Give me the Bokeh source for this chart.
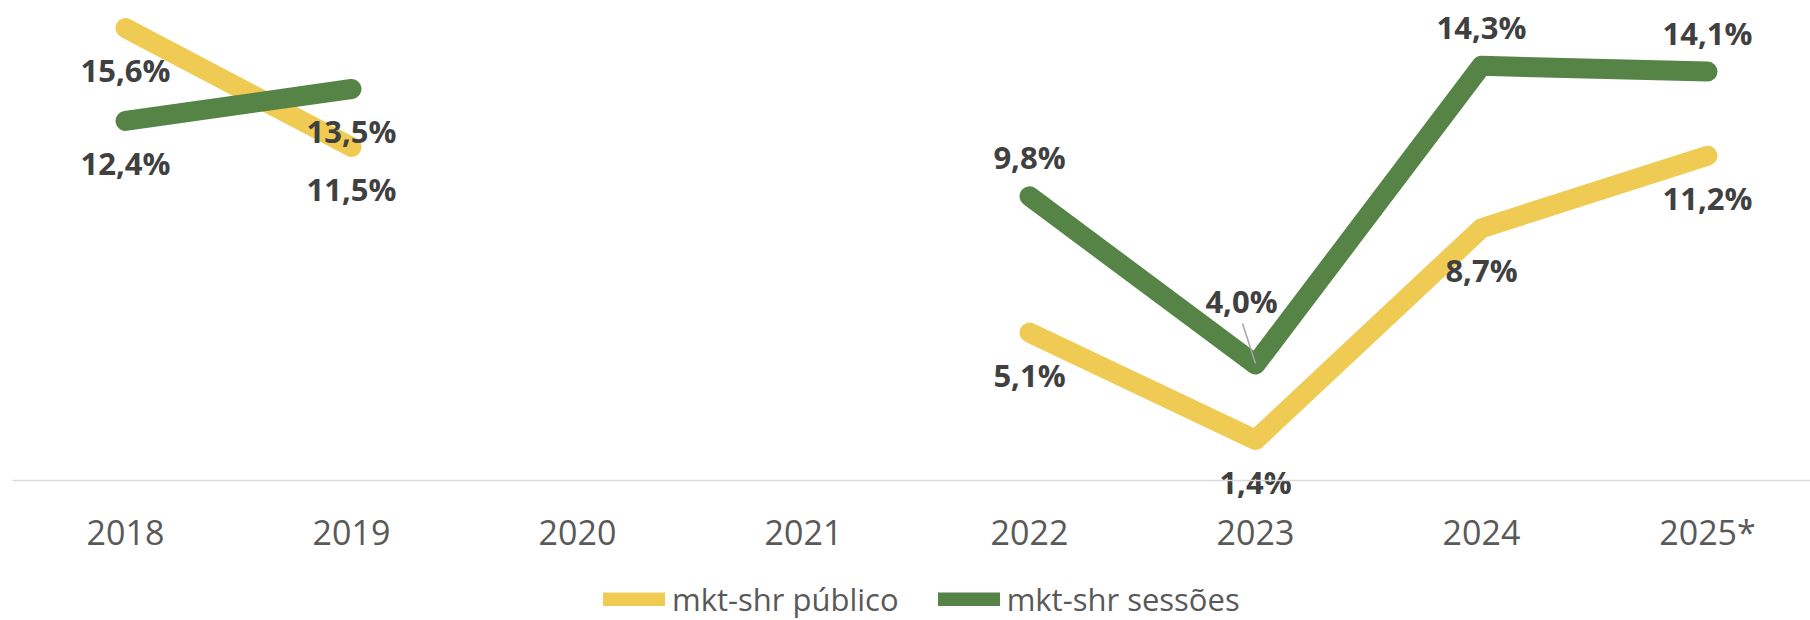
from bokeh.plotting import figure
from bokeh.models import (Range1d, ColumnDataSource, Legend, LegendItem,
                          FixedTicker)
from bokeh.core.properties import value
from bokeh.embed import file_html
from bokeh.resources import INLINE

# ---------------- data ----------------
years = ["2018", "2019", "2020", "2021", "2022", "2023", "2024", "2025*"]
mkt_shr_publico = [15.6, 11.5, None, None, 5.1, 1.4, 8.7, 11.2]
mkt_shr_sessoes = [12.4, 13.5, None, None, 9.8, 4.0, 14.3, 14.1]
series_names = ["mkt-shr público", "mkt-shr sessões"]
# label placement per point (style)
publico_label_pos = ["below"] * 8
sessoes_label_pos = ["below", "below", "", "", "above", "callout", "above", "above"]

# ---------------- style ----------------
YELLOW = "#F0CB53"
GREEN = "#558446"
LABEL_COLOR = "#404040"
AXIS_TEXT = "#595959"
FONT = "Open Sans"

W, H = 1810, 620
FRAME_L, FRAME_T = 12, 10
FRAME_W = W - FRAME_L
XPX = 226.0          # px per category
YPX = 29.0           # px per percentage point
ZERO_Y = 480         # px of y=0
FRAME_B = H          # frame runs to the bottom edge

OFFSETS = {"below": (0, 42), "above": (0, -39), "callout": (-14, -64)}

x_range = Range1d(-0.5, -0.5 + FRAME_W / XPX)
y_range = Range1d(-(FRAME_B - ZERO_Y) / YPX, (ZERO_Y - FRAME_T) / YPX)

p = figure(width=W, height=H, x_range=x_range, y_range=y_range,
           output_backend="svg", toolbar_location=None,
           min_border_left=FRAME_L, min_border_right=0,
           min_border_top=FRAME_T, min_border_bottom=0)
p.outline_line_color = None
p.grid.visible = False
p.yaxis.visible = False
p.background_fill_color = "white"
p.border_fill_color = "white"

ax = p.xaxis[0]
ax.fixed_location = 0
ax.ticker = FixedTicker(ticks=list(range(len(years))))
ax.major_label_overrides = {i: y for i, y in enumerate(years)}
ax.axis_line_color = "#d9d9d9"
ax.axis_line_width = 1.5
ax.major_tick_line_color = None
ax.minor_tick_line_color = None
ax.major_tick_out = 0
ax.major_tick_in = 0
ax.major_label_standoff = 28
ax.major_label_text_font = FONT
ax.major_label_text_font_size = "34px"
ax.major_label_text_color = AXIS_TEXT

idx = list(range(len(years)))


def nanify(vals):
    return [float("nan") if v is None else v for v in vals]


p.line(idx, nanify(mkt_shr_publico), line_color=YELLOW, line_width=20,
       line_cap="round", line_join="round")
p.line(idx, nanify(mkt_shr_sessoes), line_color=GREEN, line_width=20,
       line_cap="round", line_join="round")


def label_source(vals, pos):
    xs, ys, ts, xo, yo = [], [], [], [], []
    for i, (v, ps) in enumerate(zip(vals, pos)):
        if v is None:
            continue
        dx, dy = OFFSETS[ps]
        xs.append(i)
        ys.append(v)
        ts.append(f"{v:.1f}".replace(".", ",") + "%")
        xo.append(dx)
        yo.append(dy)
    return ColumnDataSource(dict(x=xs, y=ys, text=ts, xo=xo, yo=yo))


for vals, pos in ((mkt_shr_publico, publico_label_pos),
                  (mkt_shr_sessoes, sessoes_label_pos)):
    p.text(x="x", y="y", text="text", x_offset="xo", y_offset="yo",
           source=label_source(vals, pos), text_font=value(FONT),
           text_font_style="bold", text_font_size="31px",
           text_color=LABEL_COLOR, text_align="center",
           text_baseline="middle")

# leader line for the callout label
for i, (v, ps) in enumerate(zip(mkt_shr_sessoes, sessoes_label_pos)):
    if ps == "callout":
        p.segment(x0=[i - 13.0 / XPX], y0=[v + 41.0 / YPX],
                  x1=[i], y1=[v + 1.0 / YPX],
                  line_color="#a6a6a6", line_width=1.5)

# legend swatches (thinner strokes than the series lines; no visible data)
nan = float("nan")
ly = p.line([nan], [nan], line_color=YELLOW, line_width=14, line_cap="round")
lg = p.line([nan], [nan], line_color=GREEN, line_width=14, line_cap="round")
legend = Legend(items=[LegendItem(label=series_names[0], renderers=[ly]),
                       LegendItem(label=series_names[1], renderers=[lg])],
                orientation="horizontal", location=(591, 0),
                glyph_width=62, glyph_height=14, label_standoff=7,
                spacing=39, padding=0, margin=0, border_line_color=None,
                background_fill_alpha=0, label_text_font=FONT,
                label_text_font_size="31px", label_text_color=AXIS_TEXT)
p.add_layout(legend, "center")

open("out.html", "w").write(file_html(p, INLINE))
